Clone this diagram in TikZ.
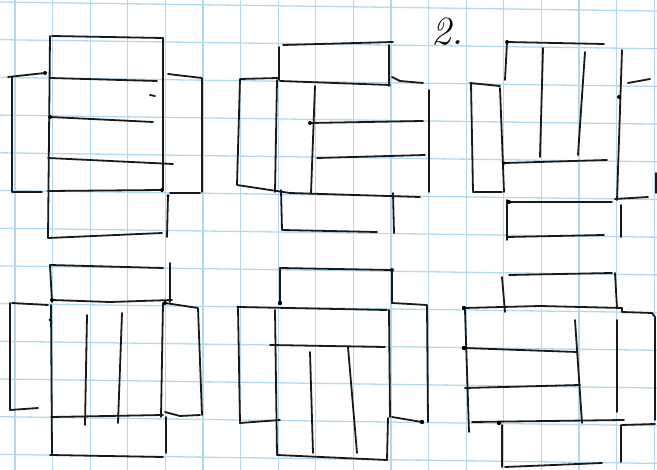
\documentclass[tikz,border=0pt]{standalone}
\begin{document}
\begin{tikzpicture}[x=1pt,y=-1pt,
  ink/.style={draw=black!90, line width=1.8pt, line cap=round, line join=round},
  gridline/.style={draw={rgb,255:red,176;green,216;blue,240}, line width=1.3pt},
  blob/.style={fill=black, draw=none}]
\useasboundingbox (0,0) rectangle (657,470);
\fill[white] (0,0) rectangle (657,470);
% grid paper
\foreach \k in {0,...,17} { \draw[gridline] (15+37.6*\k,0) -- (15+37.6*\k,470); }
\foreach \k in {0,...,12} { \draw[gridline] (0,2+37.7*\k) -- (657,11+37.7*\k); }
% label
\node[font=\fontsize{40}{40}\selectfont\itshape] (lbl) at (447,32) {2.};
% ---------- figure 1 ----------
\draw[ink] (52,36) -- (163,38);
\draw[ink] (50,36) -- (48,238);
\draw[ink] (163,38) -- (163,190);
\draw[ink] (8,77) -- (45,73);
\draw[ink] (12,77) -- (12,192) -- (42,192);
\draw[ink] (50,78) -- (157,81);
\draw[ink] (50,117) -- (153,122);
\draw[ink] (48,158) -- (173,164);
\draw[ink] (48,191) -- (162,190);
\draw[ink] (150,95) -- (155,96);
\draw[ink] (168,74) -- (202,78) -- (202,192);
\draw[ink] (170,193) -- (200,193);
\draw[ink] (48,238) -- (162,233);
\draw[ink] (168,195) -- (167,237);
\fill[blob] (45,73) circle (2pt) (50,117) circle (2pt) (162,190) circle (2pt) (168,196) circle (1.6pt);
% ---------- figure 2 ----------
\draw[ink] (283,45) -- (393,42);
\draw[ink] (279,47) -- (279,80);
\draw[ink] (389,45) -- (389,86);
\draw[ink] (280,81) -- (390,85);
\draw[ink] (278,78) -- (240,79) -- (237,185) -- (290,193) -- (420,197);
\draw[ink] (277,80) -- (275,192);
\draw[ink] (315,86) -- (311,193);
\draw[ink] (310,123) -- (423,121);
\draw[ink] (317,158) -- (425,155);
\draw[ink] (392,77) -- (400,81) -- (423,83);
\draw[ink] (429,90) -- (429,192);
\draw[ink] (281,190) -- (282,230) -- (377,232);
\draw[ink] (393,193) -- (394,233);
\fill[blob] (310,123) circle (2pt);
% ---------- figure 3 ----------
\draw[ink] (507,42) -- (604,44);
\draw[ink] (507,42) -- (505,80);
\draw[ink] (500,88) -- (504,192);
\draw[ink] (507,200) -- (507,240);
\draw[ink] (470,83) -- (500,86);
\draw[ink] (471,83) -- (473,192) -- (502,192);
\draw[ink] (543,48) -- (540,157);
\draw[ink] (585,52) -- (578,155);
\draw[ink] (505,163) -- (607,160);
\draw[ink] (509,202) -- (612,202);
\draw[ink] (507,237) -- (604,235);
\draw[ink] (622,50) -- (617,200);
\draw[ink] (628,83) -- (650,79);
\draw[ink] (615,199) -- (648,197);
\draw[ink] (656,173) -- (656,193);
\draw[ink] (621,205) -- (621,237);
\fill[blob] (507,42) circle (2pt) (619,97) circle (2pt) (504,163) circle (1.8pt) (509,202) circle (2pt);
% ---------- figure 4 ----------
\draw[ink] (50,265) -- (163,268);
\draw[ink] (50,265) -- (52,302);
\draw[ink] (170,263) -- (170,302);
\draw[ink] (52,300) -- (110,302) -- (172,300);
\draw[ink] (12,303) -- (48,305);
\draw[ink] (10,303) -- (10,410) -- (38,408);
\draw[ink] (51,305) -- (52,455);
\draw[ink] (87,315) -- (85,425);
\draw[ink] (122,313) -- (118,423);
\draw[ink] (163,303) -- (161,417);
\draw[ink] (52,417) -- (163,415);
\draw[ink] (165,303) -- (198,308) -- (202,415);
\draw[ink] (165,412) -- (180,416) -- (200,415);
\draw[ink] (50,455) -- (163,457);
\draw[ink] (166,417) -- (166,453);
\fill[blob] (52,300) circle (2pt) (165,303) circle (2pt) (50,320) circle (1.5pt) (52,417) circle (1.6pt);
% ---------- figure 5 ----------
\draw[ink] (280,268) -- (392,270);
\draw[ink] (280,268) -- (280,303);
\draw[ink] (392,270) -- (392,303);
\draw[ink] (238,307) -- (387,310);
\draw[ink] (238,307) -- (240,423) -- (280,420);
\draw[ink] (275,310) -- (277,455);
\draw[ink] (270,345) -- (385,347);
\draw[ink] (310,352) -- (313,453);
\draw[ink] (348,347) -- (357,453);
\draw[ink] (389,310) -- (390,417);
\draw[ink] (392,303) -- (427,305) -- (428,422);
\draw[ink] (392,417) -- (422,422);
\draw[ink] (277,455) -- (387,460);
\draw[ink] (388,418) -- (387,460);
\fill[blob] (280,303) circle (2.2pt) (392,270) circle (2pt) (422,422) circle (2.2pt) (238,307) circle (1.6pt);
% ---------- figure 6 ----------
\draw[ink] (509,275) -- (612,273);
\draw[ink] (502,277) -- (505,312);
\draw[ink] (615,273) -- (617,308);
\draw[ink] (464,308) -- (540,306) -- (622,308);
\draw[ink] (622,308) -- (622,312) -- (652,313) -- (655,317) -- (655,420);
\draw[ink] (465,310) -- (469,432);
\draw[ink] (464,348) -- (577,352);
\draw[ink] (575,320) -- (582,423);
\draw[ink] (465,388) -- (580,385);
\draw[ink] (617,320) -- (617,412);
\draw[ink] (472,422) -- (624,420);
\draw[ink] (622,425) -- (655,424);
\draw[ink] (502,425) -- (502,467);
\draw[ink] (505,467) -- (602,463);
\draw[ink] (621,425) -- (621,462);
\fill[blob] (464,308) circle (2.2pt) (464,348) circle (2.2pt) (499,423) circle (2.2pt);
\end{tikzpicture}
\end{document}
